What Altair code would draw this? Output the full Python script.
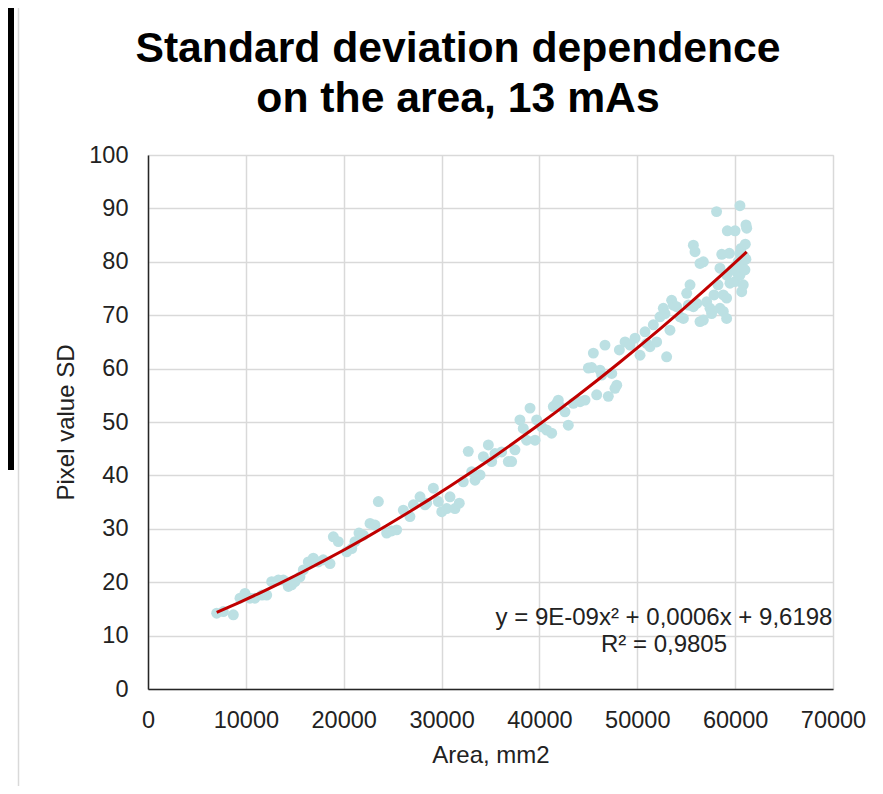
import altair as alt
import pandas as pd

# Scatter data: area (mm2) and pixel value SD
area = [7020, 7700, 8720, 9400, 9910, 10420, 10930, 11650, 12130, 12640, 13320, 13830, 14340, 14680,
        15020, 15530, 15870, 16380, 16890, 17400, 17910, 18600, 18940, 19450, 20300, 20820, 21150,
        21560, 22000, 22690, 23200, 23540, 24390, 24900, 25410, 26090, 26770, 27120, 27800, 28310,
        28480, 29160, 29670, 30020, 30530, 30860, 31370, 31810, 32220, 32730, 33080, 33420, 33930,
        34270, 34780, 35120, 35460, 36140, 36820, 37160, 37500, 38010, 38350, 38690, 39040, 39550,
        39720, 40230, 40740, 41250, 41420, 41760, 41930, 42100, 42610, 42950, 43460, 44150, 44660,
        45000, 45340, 45510, 45850, 46190, 46360, 46700, 47040, 47390, 47720, 47900, 48170, 48750,
        49260, 49770, 50280, 50790, 50960, 51300, 51640, 51980, 52320, 52660, 52830, 53000, 53340,
        53510, 53680, 54020, 54370, 54710, 55050, 55220, 55390, 55730, 55730, 55900, 56070, 56410,
        56410, 56750, 56750, 57090, 57430, 57600, 57840, 58100, 58250, 58450, 58450, 58630, 58790,
        58790, 59130, 59130, 59130, 59200, 59410, 59470, 59700, 59990, 59990, 60000, 60200, 60300,
        60490, 60490, 60490, 60600, 60670, 60700, 60830, 60900, 61000, 61040, 61100, 61110, 61180]
sd = [14.2, 14.5, 13.9, 17.0, 17.9, 17.0, 17.0, 17.6, 17.6, 20.1, 20.4, 20.4, 19.2, 19.5,
      20.1, 21.0, 22.3, 23.8, 24.5, 23.8, 24.2, 23.5, 28.5, 27.6, 25.7, 26.3, 27.6,
      29.2, 28.8, 31.0, 30.7, 35.1, 29.2, 29.6, 29.8, 33.5, 32.3, 34.5, 36.0, 34.5,
      34.8, 37.6, 35.1, 33.2, 33.8, 36.0, 33.8, 34.8, 38.8, 44.5, 40.7, 39.1, 40.1,
      43.5, 45.7, 42.6, 44.1, 44.4, 42.6, 42.6, 44.8, 50.4, 48.8, 46.6, 52.6, 46.6,
      50.4, 49.1, 48.5, 47.9, 52.9, 53.5, 54.1, 52.9, 51.9, 49.4, 53.5, 53.8, 54.1,
      60.1, 60.2, 62.9, 55.1, 59.7, 58.8, 64.4, 54.8, 59.1, 56.3, 56.9, 63.5, 65.0,
      64.4, 65.7, 62.5, 66.9, 64.7, 64.1, 68.2, 65.0, 69.7, 71.3, 70.3, 62.2, 67.2,
      72.8, 71.9, 71.6, 69.7, 69.4, 74.1, 71.9, 75.7, 71.6, 83.1, 81.9, 72.2, 79.7,
      68.8, 80.0, 69.1, 72.5, 71.3, 70.3, 73.8, 89.4, 75.7, 78.8, 71.3, 81.4, 73.8,
      70.7, 77.5, 73.2, 69.4, 85.8, 81.6, 76.0, 78.5, 85.8, 76.3, 79.0, 78.0, 80.0,
      90.5, 81.6, 77.5, 82.5, 74.4, 79.5, 75.7, 81.0, 78.5, 83.3, 80.5, 86.9, 86.3]

x_ticks = [0, 10000, 20000, 30000, 40000, 50000, 60000, 70000]
y_ticks = [0, 10, 20, 30, 40, 50, 60, 70, 80, 90, 100]
title_line1 = "Standard deviation dependence"
title_line2 = "on the area, 13 mAs"
eq_line1 = "y = 9E-09x² + 0,0006x + 9,6198"
eq_line2 = "R² = 0,9805"

df = pd.DataFrame({"area": area, "sd": sd})
FONT = "Liberation Sans"

xscale = alt.Scale(domain=[0, 70000], nice=False, zero=True)
yscale = alt.Scale(domain=[0, 100], nice=False)

xaxis = alt.Axis(values=x_ticks, format="d", title="Area, mm2", grid=True,
                 gridColor="#d9d9d9", gridWidth=1.5, domainColor="#262626", domainWidth=1.5,
                 ticks=False, tickSize=0, labelPadding=19, labelFontSize=23.5,
                 labelOverlap=False, labelFlush=False,
                 labelFont=FONT, labelColor="#222222", titleFont=FONT, titleFontSize=24,
                 titleFontWeight="normal", titleColor="#222222", titlePadding=12)
yaxis = alt.Axis(values=y_ticks, title="Pixel value SD", grid=True,
                 gridColor="#d9d9d9", gridWidth=1.5, domainColor="#262626", domainWidth=1.5,
                 ticks=False, tickSize=0, labelPadding=20, labelFontSize=23.5,
                 labelOverlap=False, labelFlush=False,
                 labelFont=FONT, labelColor="#222222", titleFont=FONT, titleFontSize=24,
                 titleFontWeight="normal", titleColor="#222222", titlePadding=10)

base = alt.Chart(df)

points = base.mark_circle(size=120, opacity=1, color="#bce0e3").encode(
    x=alt.X("area:Q", scale=xscale, axis=xaxis),
    y=alt.Y("sd:Q", scale=yscale, axis=yaxis),
)

trend = base.transform_regression("area", "sd", method="poly", order=2).mark_line(
    color="#c00000", strokeWidth=3
).encode(
    x=alt.X("area:Q", scale=xscale),
    y=alt.Y("sd:Q", scale=yscale),
)

one = alt.Data(values=[{"k": 1}])


def label(text, x, y, size, weight="normal", color="#222222"):
    return alt.Chart(one).mark_text(font=FONT, fontSize=size, fontWeight=weight, color=color,
                                    align="center", baseline="alphabetic").encode(
        x=alt.value(x), y=alt.value(y), text=alt.value(text))


t1 = label(title_line1, 310, -93, 42.7, "bold", "#000000")
t2 = label(title_line2, 310, -43, 42.7, "bold", "#000000")
eq1 = label(eq_line1, 516, 470, 24)
eq2 = label(eq_line2, 516, 496.7, 24)

black_bar = alt.Chart(one).mark_rect(color="#000000").encode(
    x=alt.value(-140), x2=alt.value(-134), y=alt.value(-147), y2=alt.value(315))
border = alt.Chart(one).mark_rule(color="#d9d9d9", strokeWidth=1.5).encode(
    x=alt.value(-129.5), y=alt.value(-147), y2=alt.value(640))

chart = alt.layer(border, black_bar, points, trend, eq1, eq2, t1, t2).properties(
    width=685, height=534,
    autosize=alt.AutoSizeParams(type="none"),
    padding={"left": 140, "top": 147, "right": 40, "bottom": 97},
).configure_view(stroke=None).configure(background="#ffffff")

chart.save("out.html", embed_options={"renderer": "svg", "actions": False})
